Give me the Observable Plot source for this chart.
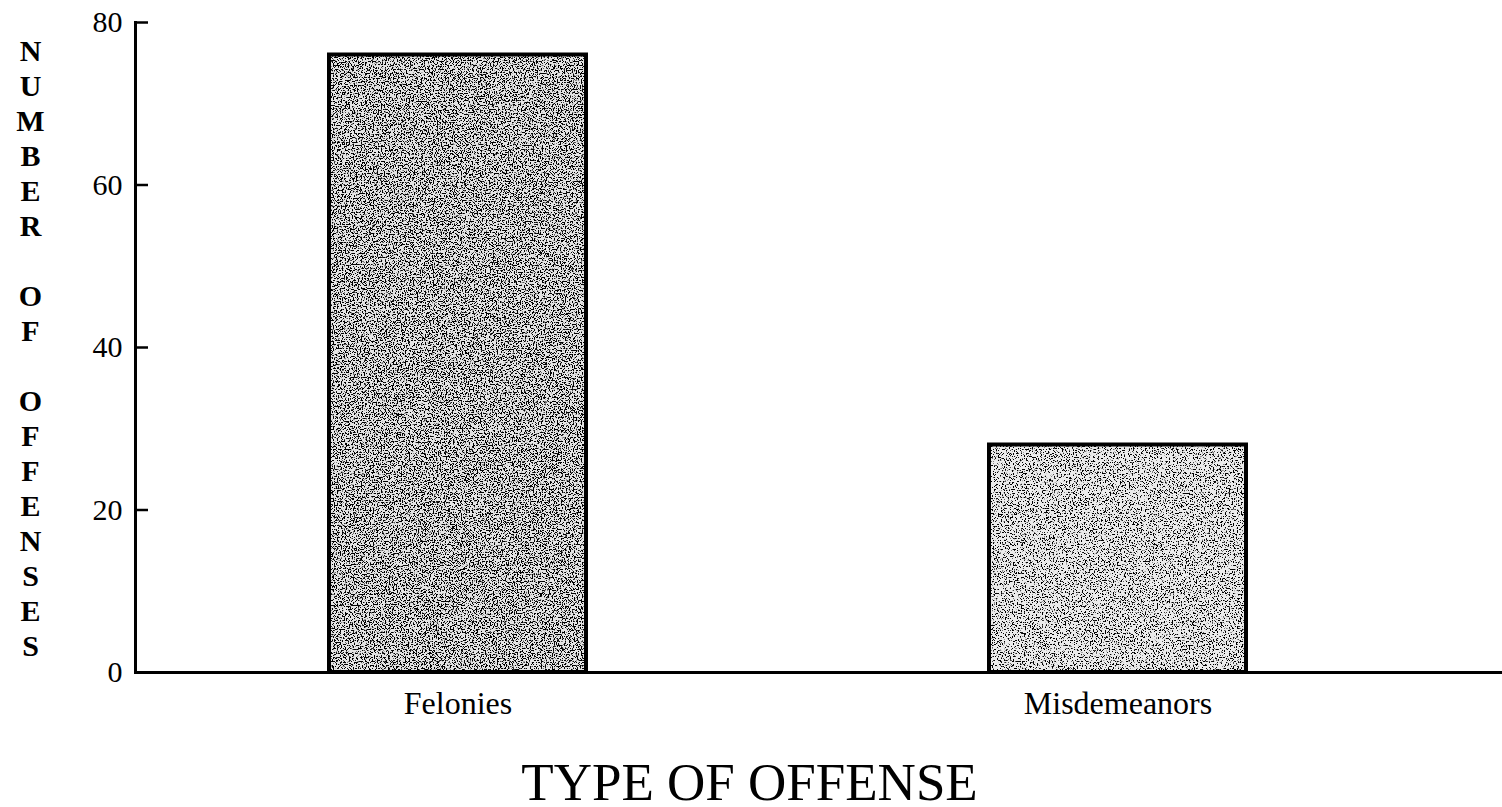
<!DOCTYPE html>
<html>
<head>
<meta charset="utf-8">
<script src="https://cdn.jsdelivr.net/npm/d3@7"></script>
<script src="https://cdn.jsdelivr.net/npm/@observablehq/plot@0.6"></script>
<style>
  html, body { margin: 0; padding: 0; background: #fff; }
  #chart svg { display: block; }
</style>
</head>
<body>
<div id="chart"></div>
<script>
const categories = ["Felonies", "Misdemeanors"];
const counts = [76, 28];
const yTicks = [0, 20, 40, 60, 80];
const yLabel = "NUMBER OF OFFENSES";
const xTitle = "TYPE OF OFFENSE";
const baseFills = ["#e4e4e4", "#ebebeb"];
const speckleThresholds = [0.515, 0.56];

const data = categories.map((c, i) => ({type: c, count: counts[i]}));
const yLabelStacked = yLabel.split(" ").map(w => w.split("").join("\n")).join("\n\u00a0\n");

const W = 1502, H = 807, ML = 135, MT = 22, MB = 135, MR = 0;
const frameW = W - ML - MR;

const chart = Plot.plot({
  width: W,
  height: H,
  marginTop: MT,
  marginBottom: MB,
  marginLeft: ML,
  marginRight: MR,
  style: {fontFamily: "'Liberation Serif', 'Times New Roman', serif", background: "#fff", color: "#000", overflow: "visible"},
  x: {domain: categories, range: [135, 1440], paddingInner: 0.611, paddingOuter: 0.293, label: null},
  y: {domain: [0, 80], label: null},
  color: {domain: categories, range: baseFills},
  marks: [
    Plot.barY(data, {x: "type", y: "count", fill: "type"}),
    Plot.barY(data, {x: "type", y: "count", fill: "none", stroke: "#000", strokeWidth: 4}),
    Plot.tickY(yTicks, {y: d => d, insetRight: frameW - 13, stroke: "#000", strokeWidth: 2.5}),
    Plot.axisY({ticks: yTicks, tickSize: 0, tickPadding: 13, fontSize: 30, tickFormat: d => String(d)}),
    Plot.axisX({tickSize: 0, tickPadding: 19, fontSize: 32}),
    Plot.frame({anchor: "left", stroke: "#000", strokeWidth: 3}),
    Plot.ruleY([0], {stroke: "#000", strokeWidth: 3}),
    Plot.text([yLabelStacked], {text: d => d, frameAnchor: "left", dx: -105, textAnchor: "middle", lineAnchor: "middle", lineHeight: 35 / 30, fontSize: 30, fontWeight: "bold"}),
    Plot.text([xTitle], {text: d => d, frameAnchor: "bottom", dx: 749 - (ML + frameW / 2), dy: 90, lineAnchor: "top", fontSize: 53})
  ]
});

// texture (speckled print look) for the bars
const svg = d3.select(chart);
const defs = svg.insert("defs", ":first-child");
speckleThresholds.forEach((t, i) => {
  const f = defs.append("filter").attr("id", "speck" + i).attr("color-interpolation-filters", "sRGB")
    .attr("x", 0).attr("y", 0).attr("width", 1).attr("height", 1);
  f.append("feTurbulence").attr("type", "fractalNoise").attr("baseFrequency", 0.75).attr("numOctaves", 2).attr("seed", 5 + i).attr("result", "n");
  const k = 14;
  f.append("feColorMatrix").attr("in", "n").attr("type", "matrix")
    .attr("values", `0 0 0 0 0  0 0 0 0 0  0 0 0 0 0  ${k} 0 0 0 ${-k * t}`).attr("result", "d");
  f.append("feComposite").attr("in", "d").attr("in2", "SourceAlpha").attr("operator", "in").attr("result", "dc");
  const m = f.append("feMerge");
  m.append("feMergeNode").attr("in", "SourceGraphic");
  m.append("feMergeNode").attr("in", "dc");
});
svg.selectAll("rect").each(function() {
  const fill = (this.getAttribute("fill") || "").toLowerCase();
  const i = baseFills.indexOf(fill);
  if (i >= 0) this.setAttribute("filter", `url(#speck${i})`);
});

document.getElementById("chart").appendChild(chart);
</script>
</body>
</html>
